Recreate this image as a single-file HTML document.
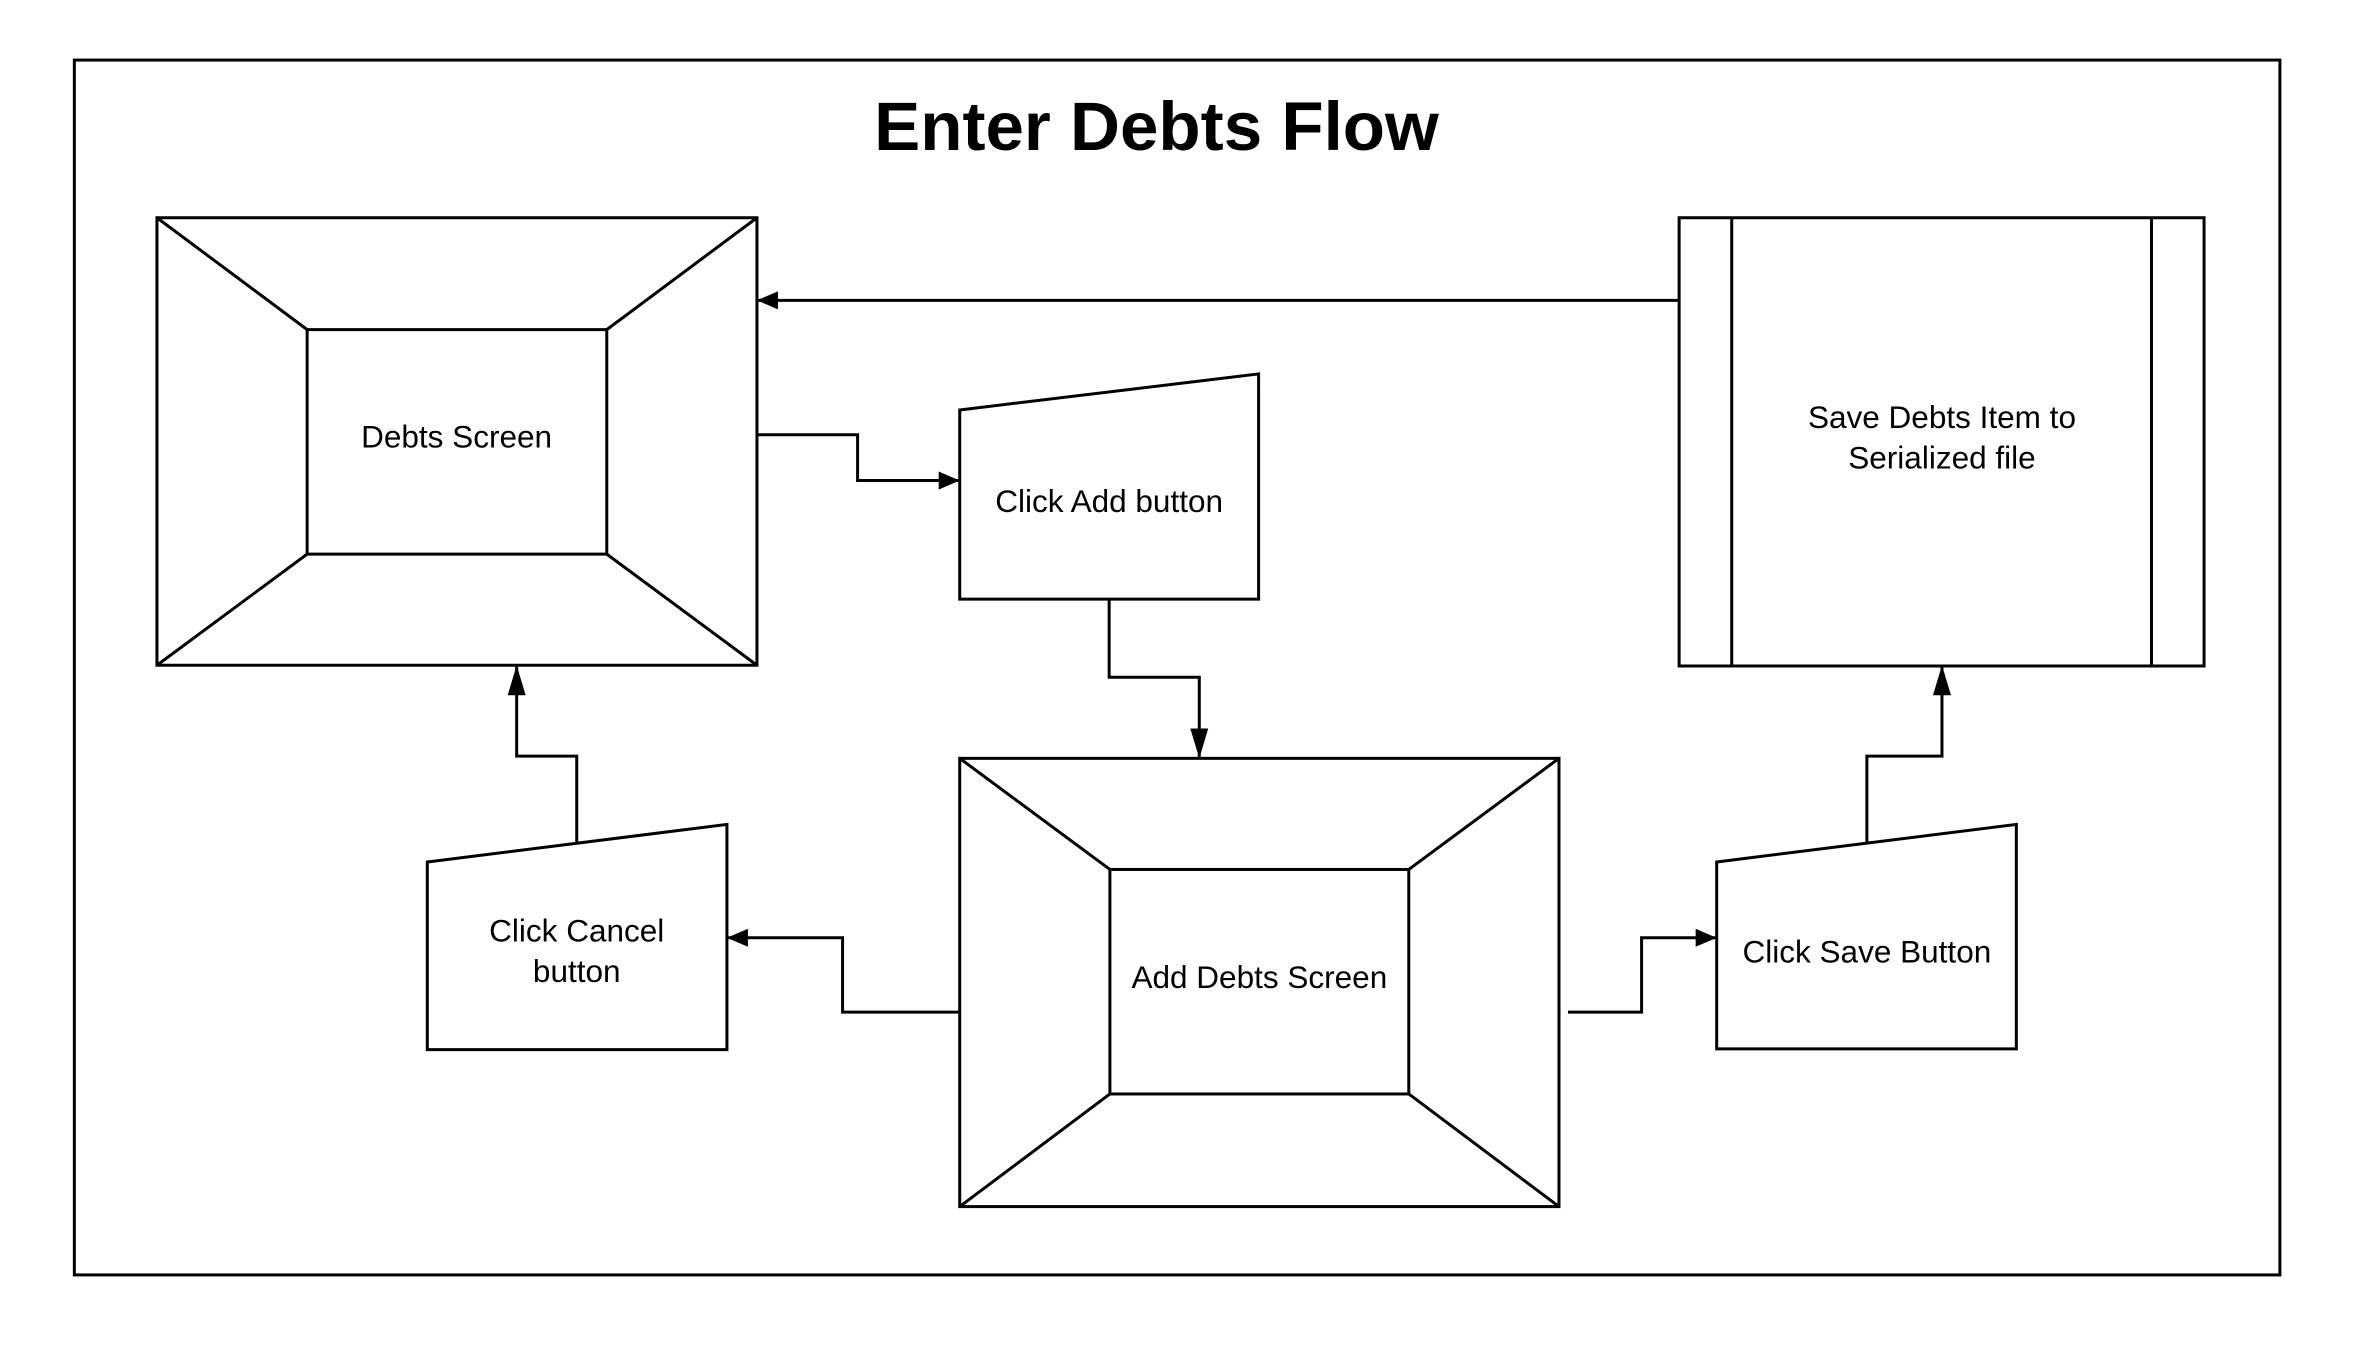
<!DOCTYPE html>
<html><head><meta charset="utf-8"><style>
html,body{margin:0;padding:0;background:#fff;}
svg{display:block;}
text{font-family:"Liberation Sans",sans-serif;fill:#000;}
</style></head><body>
<svg width="2355" height="1350" viewBox="0 0 1568 899" preserveAspectRatio="none" xmlns="http://www.w3.org/2000/svg">
<defs>
<marker id="a" markerWidth="20" markerHeight="12" refX="19" refY="6" orient="auto" markerUnits="userSpaceOnUse">
<path d="M0,0 L20,6 L0,12 Z" fill="#000"/>
</marker>
<marker id="b" markerWidth="14" markerHeight="12" refX="13" refY="6" orient="auto" markerUnits="userSpaceOnUse">
<path d="M0,0 L14,6 L0,12 Z" fill="#000"/>
</marker>
</defs>
<g fill="none" stroke="#000" stroke-width="2">
<rect x="49.5" y="40" width="1468.5" height="809"/>
<rect x="104.5" y="145" width="399.5" height="298"/>
<rect x="204.5" y="219.5" width="199.5" height="149.5"/>
<path d="M104.5,145 L204.5,219.5 M504,145 L404,219.5 M104.5,443 L204.5,369 M504,443 L404,369"/>
<path d="M639,273 L838,249 L838,399 L639,399 Z"/>
<rect x="1118" y="145" width="349.5" height="298.5"/>
<path d="M1153,145 V443.5 M1432.5,145 V443.5"/>
<rect x="639" y="505" width="399" height="298.5"/>
<rect x="739" y="579" width="199" height="149.5"/>
<path d="M639,505 L739,579 M1038,505 L938,579 M639,803.5 L739,728.5 M1038,803.5 L938,728.5"/>
<path d="M284.5,574 L484,549 L484,699 L284.5,699 Z"/>
<path d="M1143,574 L1342.5,549 L1342.5,698.5 L1143,698.5 Z"/>
<path d="M1118,200 L505,200" marker-end="url(#b)"/>
<path d="M504,289.5 H571 V320 H638" marker-end="url(#b)"/>
<path d="M738.5,399 V451 H798.5 V504" marker-end="url(#a)"/>
<path d="M639,674 H561 V624.5 H485" marker-end="url(#b)"/>
<path d="M384,561 V503.5 H344 V444" marker-end="url(#a)"/>
<path d="M1044,674 H1093 V624.5 H1142" marker-end="url(#b)"/>
<path d="M1243,561 V503.5 H1293 V444" marker-end="url(#a)"/>
</g>
<text x="770" y="100" font-size="46" font-weight="bold" text-anchor="middle" textLength="376" lengthAdjust="spacingAndGlyphs">Enter Debts Flow</text>
<g font-size="21" text-anchor="middle">
<text x="304" y="298">Debts Screen</text>
<text x="738.5" y="341">Click Add button</text>
<text x="1293" y="285">Save Debts Item to</text>
<text x="1293" y="312">Serialized file</text>
<text x="838.5" y="658">Add Debts Screen</text>
<text x="384" y="627">Click Cancel</text>
<text x="384" y="654">button</text>
<text x="1243" y="641">Click Save Button</text>
</g>
</svg>
</body></html>
